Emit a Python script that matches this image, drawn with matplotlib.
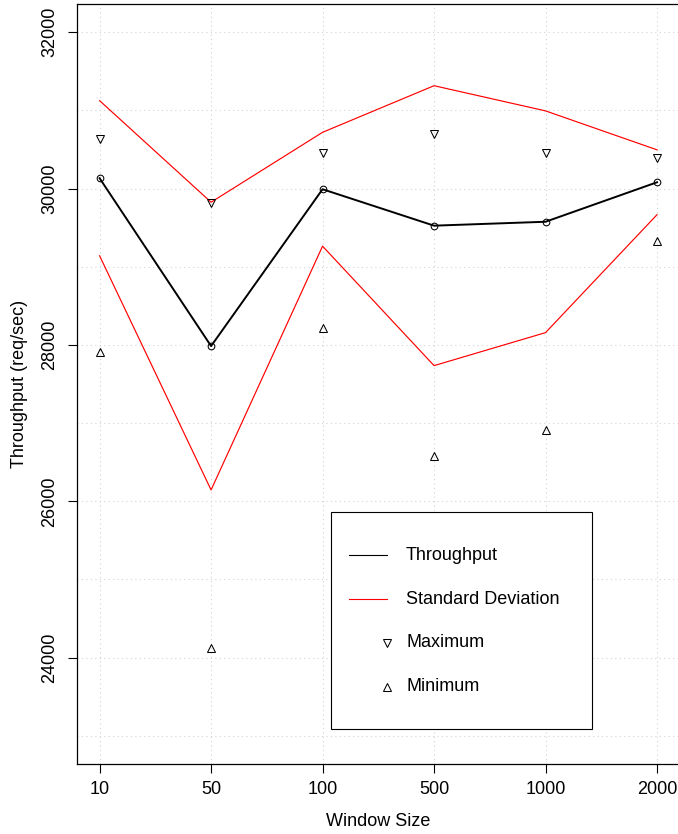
import matplotlib
matplotlib.use("Agg")
import matplotlib.pyplot as plt
from matplotlib.lines import Line2D
from matplotlib.patches import Rectangle

plt.rcParams['font.family'] = ['Liberation Sans', 'DejaVu Sans']

# Window size categories
window_sizes = ["10", "50", "100", "500", "1000", "2000"]
# Mean throughput (req/sec)
throughput = [30132, 27985, 29991, 29525, 29575, 30080]
# Standard deviation of throughput
std_dev = [992, 1840, 728, 1790, 1418, 415]
# Observed maximum / minimum throughput
maximum = [30634, 29821, 30455, 30694, 30455, 30396]
minimum = [27912, 24121, 28215, 26583, 26911, 29331]

y_ticks = [24000, 26000, 28000, 30000, 32000]
y_grid = [23000, 24000, 25000, 26000, 27000, 28000, 29000, 30000, 31000, 32000]

W, H = 678, 834
fig = plt.figure(figsize=(W / 100, H / 100), dpi=100)


def fx(x):
    return x / W


def fy(y):
    return 1 - y / H


ax_left, ax_right, ax_top, ax_bottom = 77.3, 679.3, 4, 764
ax = fig.add_axes([fx(ax_left), fy(ax_bottom),
                   (ax_right - ax_left) / W, (ax_bottom - ax_top) / H])

xs = list(range(1, len(window_sizes) + 1))
upper = [t + s for t, s in zip(throughput, std_dev)]
lower = [t - s for t, s in zip(throughput, std_dev)]

# background grid
for x in xs:
    ax.axvline(x, color="#d3d3d3", lw=0.8, ls=(0, (1, 3)), zorder=0)
for y in y_grid:
    ax.axhline(y, color="#d3d3d3", lw=0.8, ls=(0, (1, 3)), zorder=0)

tri_ms = 6.2
ax.plot(xs, upper, color="red", lw=0.85, zorder=2)
ax.plot(xs, lower, color="red", lw=0.85, zorder=2)
ax.plot(xs, throughput, color="black", lw=1.4, marker="o", ms=4.8,
        mfc="none", mec="black", mew=0.75, zorder=3)
ax.plot(xs, maximum, ls="none", marker="v", ms=tri_ms, mfc="none",
        mec="black", mew=0.75, zorder=3)
ax.plot(xs, minimum, ls="none", marker="^", ms=tri_ms, mfc="none",
        mec="black", mew=0.75, zorder=3)

ax.set_xlim(0.8, 6.2)
ax.set_ylim(22640, 32360)
ax.set_xticks(xs)
ax.set_xticklabels(window_sizes)
ax.set_yticks(y_ticks)
ax.set_yticklabels([str(v) for v in y_ticks], rotation=90, va="center")
ax.tick_params(axis="both", direction="out", length=6.5, width=0.8,
               labelsize=13, color="black")
ax.tick_params(axis="x", pad=6)
ax.tick_params(axis="y", pad=7)
for sp in ax.spines.values():
    sp.set_linewidth(0.9)
    sp.set_color("black")

fig.text(fx(378), fy(822), "Window Size", ha="center", va="center", fontsize=13)
fig.text(fx(19.5), fy(384), "Throughput (req/sec)", ha="center", va="center",
         rotation=90, fontsize=13)

# legend box
lx0, ly0, lx1, ly1 = 330.7, 511.7, 591.7, 729.3
fig.add_artist(Rectangle((fx(lx0), fy(ly1)), (lx1 - lx0) / W, (ly1 - ly0) / H,
                         transform=fig.transFigure, fill=True, fc="white",
                         ec="black", lw=0.8, zorder=5))
rows = [555, 599.3, 642.7, 686.7]
labels = ["Throughput", "Standard Deviation", "Maximum", "Minimum"]
fig.add_artist(Line2D([fx(349.3), fx(387.3)], [fy(rows[0])] * 2,
                      transform=fig.transFigure, color="black", lw=0.8, zorder=6))
fig.add_artist(Line2D([fx(349.3), fx(387.3)], [fy(rows[1])] * 2,
                      transform=fig.transFigure, color="red", lw=0.8, zorder=6))
fig.add_artist(Line2D([fx(387)], [fy(rows[2])], transform=fig.transFigure,
                      ls="none", marker="v", ms=tri_ms, mfc="none", mec="black",
                      mew=0.75, zorder=6))
fig.add_artist(Line2D([fx(387)], [fy(rows[3])], transform=fig.transFigure,
                      ls="none", marker="^", ms=tri_ms, mfc="none", mec="black",
                      mew=0.75, zorder=6))
for r, lab in zip(rows, labels):
    fig.text(fx(406), fy(r), lab, ha="left", va="center", fontsize=13, zorder=7)

fig.savefig("out.png", dpi=100)
